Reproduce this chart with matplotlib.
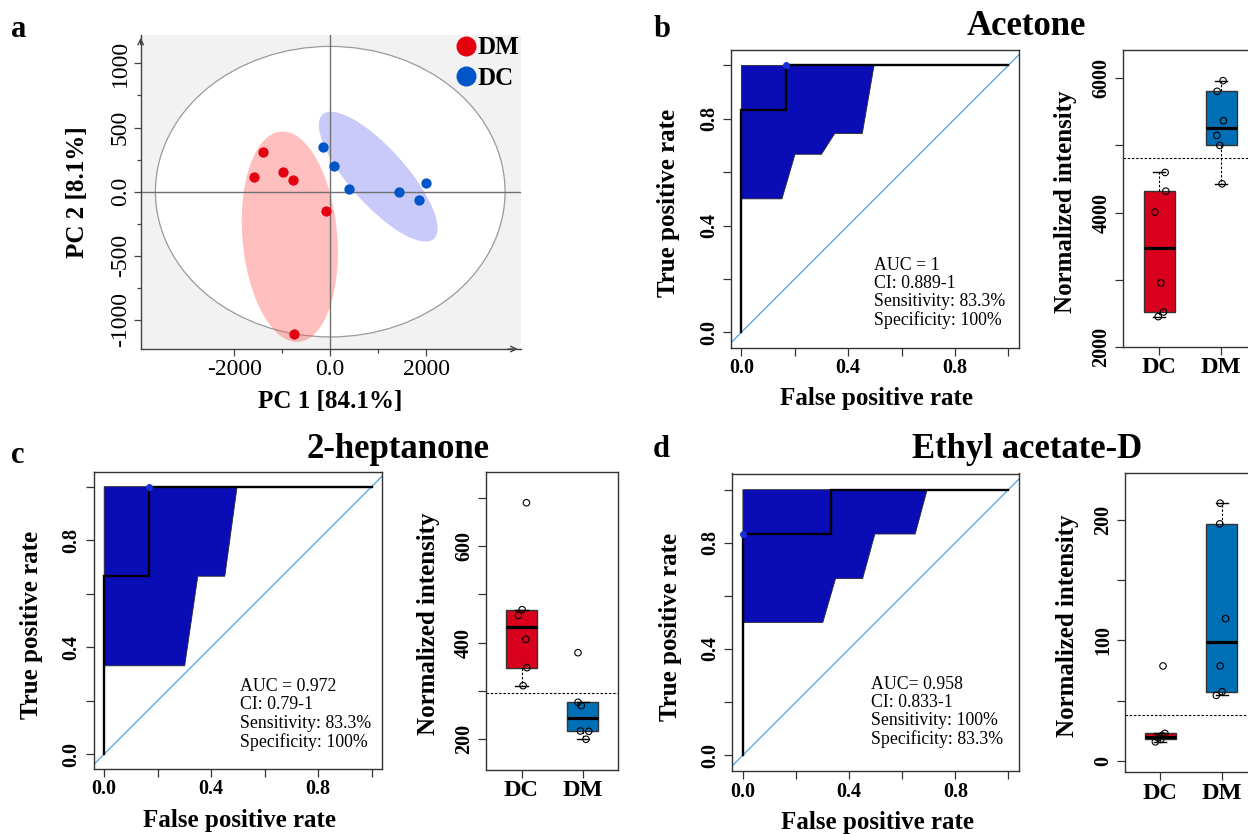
import numpy as np
import matplotlib
matplotlib.use("Agg")
import matplotlib.pyplot as plt
from matplotlib.patches import Ellipse
from matplotlib.lines import Line2D

plt.rcParams['font.family'] = ['Liberation Serif', 'DejaVu Serif']

# ---------------- data ----------------
# Panel a: PCA scores
pca_groups = ['DM', 'DC']
dm_pc1 = [-1393, -1593, -986, -779, -93, -764]
dm_pc2 = [312, 117, 156, 88, -148, -1112]
dc_pc1 = [-143, 86, 386, 1436, 1857, 1986]
dc_pc2 = [351, 197, 23, 0, -68, 68]
pc1_label = 'PC 1 [84.1%]'
pc2_label = 'PC 2 [8.1%]'
# ellipses: centre and two conjugate semi-axes (score units)
t2_center = (0, 0)
t2_semi = (3643, 1132)
dm_ell_center = (-843, -351); dm_ell_u = (-150, 820); dm_ell_v = (990, 0)
dc_ell_center = (1000, 117); dc_ell_u = (-1170, 480); dc_ell_v = (400, 160)

# ROC curves
acetone_fpr = [0.0, 0.0, 0.167, 0.167, 1.0]
acetone_tpr = [0.0, 0.833, 0.833, 1.0, 1.0]
acetone_ci_fpr = [0.0, 0.497, 0.453, 0.350, 0.300, 0.201, 0.152, 0.0]
acetone_ci_tpr = [1.0, 1.0, 0.745, 0.745, 0.667, 0.667, 0.500, 0.500]
acetone_best = (0.167, 1.0)
acetone_stats = ['AUC = 1', 'CI: 0.889-1', 'Sensitivity: 83.3%', 'Specificity: 100%']

heptanone_fpr = [0.0, 0.0, 0.167, 0.167, 1.0]
heptanone_tpr = [0.0, 0.667, 0.667, 1.0, 1.0]
heptanone_ci_fpr = [0.0, 0.497, 0.451, 0.350, 0.301, 0.0]
heptanone_ci_tpr = [1.0, 1.0, 0.665, 0.665, 0.330, 0.330]
heptanone_best = (0.167, 1.0)
heptanone_stats = ['AUC = 0.972', 'CI: 0.79-1', 'Sensitivity: 83.3%', 'Specificity: 100%']

ethyl_fpr = [0.0, 0.0, 0.333, 0.333, 1.0]
ethyl_tpr = [0.0, 0.833, 0.833, 1.0, 1.0]
ethyl_ci_fpr = [0.0, 0.694, 0.649, 0.497, 0.451, 0.349, 0.301, 0.0]
ethyl_ci_tpr = [1.0, 1.0, 0.833, 0.833, 0.665, 0.665, 0.500, 0.500]
ethyl_best = (0.0, 0.833)
ethyl_stats = ['AUC= 0.958', 'CI: 0.833-1', 'Sensitivity: 100%', 'Specificity: 83.3%']

# Box plots (normalized intensity)
box_groups = ['DC', 'DM']
acetone_dc = [4597, 4318, 4005, 2950, 2517, 2448]
acetone_dm = [5965, 5806, 5368, 5149, 5000, 4428]
acetone_dc_jit = [0.096, 0.107, -0.069, 0.027, 0.069, -0.016]
acetone_dm_jit = [0.032, -0.064, 0.037, -0.069, -0.021, 0.016]
acetone_cut = 4806

heptanone_dc = [689.7, 468.3, 456.6, 406.9, 348.3, 311.0]
heptanone_dm = [379.3, 276.6, 269.7, 217.2, 216.6, 200.0]
heptanone_dc_jit = [0.080, 0.010, -0.050, 0.070, 0.088, 0.025]
heptanone_dm_jit = [-0.078, -0.078, -0.026, -0.039, 0.098, 0.052]
heptanone_cut = 295

ethyl_dc = [78.7, 22.7, 21.0, 19.0, 17.7, 15.7]
ethyl_dm = [213.9, 196.7, 118.0, 78.7, 57.3, 54.3]
ethyl_dc_jit = [0.044, 0.075, 0.025, -0.038, 0.006, -0.080]
ethyl_dm_jit = [-0.025, -0.031, 0.063, -0.025, 0.006, -0.088]
ethyl_cut = 38.2

# ---------------- style ----------------
RED_PT = '#e3000f'
BLUE_PT = '#0055c8'
RED_BOX = '#d8001c'
BLUE_BOX = '#0070b6'
CI_BLUE = '#0a0cb5'
DIAG = '#4ba3e3'
FRAME = '#333333'

W, H = 1248, 834
fig = plt.figure(figsize=(W / 100, H / 100), dpi=100)


def add_ax(l, t, r, b):
    return fig.add_axes([l / W, 1 - b / H, (r - l) / W, (b - t) / H])


def ellipse_pts(c, u, v, n=200):
    t = np.linspace(0, 2 * np.pi, n)
    x = c[0] + u[0] * np.cos(t) + v[0] * np.sin(t)
    y = c[1] + u[1] * np.cos(t) + v[1] * np.sin(t)
    return x, y


# ---------------- panel a ----------------
ax = add_ax(140.7, 35, 520.5, 349)
ax.set_facecolor('#f2f2f2')
ax.set_xlim(-3950, 3965)
ax.set_ylim(-1226, 1221)
ax.add_patch(Ellipse(t2_center, 2 * t2_semi[0], 2 * t2_semi[1], fc='white',
                     ec='#9a9a9a', lw=0.9, zorder=0.5))
ex, ey = ellipse_pts(dm_ell_center, dm_ell_u, dm_ell_v)
ax.fill(ex, ey, color='#ff5050', alpha=0.36, lw=0, zorder=1.2)
ex, ey = ellipse_pts(dc_ell_center, dc_ell_u, dc_ell_v)
ax.fill(ex, ey, color='#5a5af0', alpha=0.32, lw=0, zorder=1.2)
ax.axhline(0, color='#707070', lw=1.0, zorder=1.5)
ax.axvline(0, color='#707070', lw=1.0, zorder=1.5)
ax.scatter(dm_pc1, dm_pc2, s=55, color=RED_PT, zorder=3, lw=0)
ax.scatter(dc_pc1, dc_pc2, s=55, color=BLUE_PT, zorder=3, lw=0)
for s in ['top', 'right']:
    ax.spines[s].set_visible(False)
for s in ['left', 'bottom']:
    ax.spines[s].set_color('#444444')
    ax.spines[s].set_linewidth(1.0)
ax.set_xticks([-2000, 0, 2000], ['-2000', '0.0', '2000'], fontsize=17)
ax.set_xticks([-1000, 1000], minor=True)
ax.set_yticks([-1000, -500, 0, 500, 1000], ['-1000', '-500', '0.0', '500', '1000'],
              fontsize=17, rotation=90, va='center')
ax.set_yticks([-750, -250, 250, 750], minor=True)
ax.tick_params(which='both', color='#444444', width=0.9)
ax.tick_params(which='major', length=5, pad=2)
ax.tick_params(which='minor', length=3)
ax.annotate('', xy=(1.0, 0), xytext=(0.96, 0), xycoords='axes fraction',
            arrowprops=dict(arrowstyle='->', color='#444444', lw=1.0, mutation_scale=10))
ax.annotate('', xy=(0, 1.0), xytext=(0, 0.96), xycoords='axes fraction',
            arrowprops=dict(arrowstyle='->', color='#444444', lw=1.0, mutation_scale=10))
ax.set_xlabel(pc1_label, fontsize=18, fontweight='bold')
ax.set_ylabel(pc2_label, fontsize=18, fontweight='bold')
ax.xaxis.label.set(va='center', ha='center')
ax.yaxis.label.set(va='center', ha='center')
ax.xaxis.set_label_coords(0.498, -0.168)
ax.yaxis.set_label_coords(-0.166, 0.5)
handles = [Line2D([], [], ls='none', marker='o', ms=13.4, mfc=RED_PT, mec=RED_PT),
           Line2D([], [], ls='none', marker='o', ms=13.4, mfc=BLUE_PT, mec=BLUE_PT)]
ax.legend(handles, pca_groups, loc='upper right', bbox_to_anchor=(1.0, 1.0),
          frameon=False, prop=dict(weight='bold', size=18), handlelength=0.8,
          handletextpad=0.05, labelspacing=0.3, borderpad=0.05, borderaxespad=0.0)


# ---------------- ROC helper ----------------
def draw_roc(l, t, r, b, fpr, tpr, ci_fpr, ci_tpr, best, stats, tx, ty):
    ax = add_ax(l, t, r, b)
    wpx, hpx = r - l, b - t
    k = wpx / 1.08
    half = hpx / (2 * k)
    ax.set_xlim(-0.04, 1.04)
    ax.set_ylim(0.5 - half, 0.5 + half)
    ax.fill(ci_fpr, ci_tpr, fc=CI_BLUE, ec='#2a2a2a', lw=0.6, zorder=2)
    ax.axline((0, 0), (1, 1), color=DIAG, lw=0.9, zorder=2.5)
    ax.plot(fpr, tpr, color='black', lw=1.7, zorder=3, solid_joinstyle='miter')
    ax.plot([best[0]], [best[1]], 'o', color='#1a30d8', ms=4, zorder=4)
    ax.text(tx, ty, '\n'.join(stats), fontsize=12.8, va='center', ha='left',
            linespacing=1.08, zorder=5)
    ticks = [0, 0.2, 0.4, 0.6, 0.8, 1.0]
    labs = ['0.0', '', '0.4', '', '0.8', '']
    ax.set_xticks(ticks, labs, fontsize=14.5, fontweight='bold')
    ax.set_yticks(ticks, labs, fontsize=14.5, fontweight='bold', rotation=90, va='center')
    ax.tick_params(length=5.5, width=0.9, color=FRAME)
    ax.tick_params(axis='x', pad=2)
    ax.tick_params(axis='y', pad=3)
    for s in ax.spines.values():
        s.set_color(FRAME)
        s.set_linewidth(1.0)
    ax.set_xlabel('False positive rate', fontsize=18, fontweight='bold')
    ax.set_ylabel('True positive rate', fontsize=18, fontweight='bold')
    ax.xaxis.label.set(va='center', ha='center')
    ax.yaxis.label.set(va='center', ha='center')
    ax.xaxis.set_label_coords(0.507, -0.172)
    ax.yaxis.set_label_coords(-0.215, 0.485)
    return ax


def tukey(vals):
    s = np.sort(np.asarray(vals, dtype=float))
    n = len(s)
    q1 = np.median(s[:(n + 1) // 2])
    q3 = np.median(s[n // 2:])
    iqr = q3 - q1
    lo = s[s >= q1 - 1.5 * iqr].min()
    hi = s[s <= q3 + 1.5 * iqr].max()
    return dict(med=np.median(s), q1=q1, q3=q3, whislo=lo, whishi=hi, fliers=[])


def draw_box(l, t, r, b, dc, dm, dc_jit, dm_jit, cut, ylim, yticks, ylabs):
    ax = add_ax(l, t, r, b)
    stats = [tukey(dc), tukey(dm)]
    bp = ax.bxp(stats, positions=[1, 2], widths=0.5, patch_artist=True, showfliers=False,
                boxprops=dict(edgecolor=FRAME, lw=1.0),
                medianprops=dict(color='black', lw=2.3),
                whiskerprops=dict(color='black', lw=0.8, ls=(0, (2.2, 1.6))),
                capprops=dict(color='black', lw=1.0), capwidths=0.2)
    bp['boxes'][0].set_facecolor(RED_BOX)
    bp['boxes'][1].set_facecolor(BLUE_BOX)
    ax.axhline(cut, color='black', lw=0.8, ls=(0, (2.2, 1.6)), zorder=1)
    ax.scatter(1 + np.asarray(dc_jit), dc, s=22, facecolors='none', edgecolors='black',
               lw=0.8, zorder=4)
    ax.scatter(2 + np.asarray(dm_jit), dm, s=22, facecolors='none', edgecolors='black',
               lw=0.8, zorder=4)
    ax.set_xlim(0.42, 2.58)
    ax.set_ylim(*ylim)
    ax.set_xticks([1, 2], box_groups, fontsize=17.5, fontweight='bold')
    ax.set_yticks(yticks, ylabs, fontsize=14.5, fontweight='bold', rotation=90, va='center')
    ax.tick_params(length=5.5, width=0.9, color=FRAME)
    ax.tick_params(axis='x', pad=2)
    ax.tick_params(axis='y', pad=3)
    for s in ax.spines.values():
        s.set_color(FRAME)
        s.set_linewidth(1.0)
    ax.set_ylabel('Normalized intensity', fontsize=18, fontweight='bold')
    ax.yaxis.label.set(va='center', ha='center')
    ax.yaxis.set_label_coords(-0.435, 0.49)
    return ax


# ---------------- panel b ----------------
draw_roc(730.7, 50, 1019, 347.7, acetone_fpr, acetone_tpr, acetone_ci_fpr, acetone_ci_tpr,
         acetone_best, acetone_stats, 0.496, 0.149)
draw_box(1123.3, 50, 1257, 346.7, acetone_dc, acetone_dm, acetone_dc_jit, acetone_dm_jit,
         acetone_cut, (2000, 6422), [2000, 3000, 4000, 5000, 6000],
         ['2000', '', '4000', '', '6000'])

# ---------------- panel c ----------------
draw_roc(93.5, 471.7, 382.3, 769, heptanone_fpr, heptanone_tpr, heptanone_ci_fpr,
         heptanone_ci_tpr, heptanone_best, heptanone_stats, 0.506, 0.148)
draw_box(486, 471.7, 618.3, 769.7, heptanone_dc, heptanone_dm, heptanone_dc_jit,
         heptanone_dm_jit, heptanone_cut, (137, 754), [200, 300, 400, 500, 600, 700],
         ['200', '', '400', '', '600', ''])

# ---------------- panel d ----------------
draw_roc(732.3, 473.5, 1019, 771.3, ethyl_fpr, ethyl_tpr, ethyl_ci_fpr, ethyl_ci_tpr,
         ethyl_best, ethyl_stats, 0.483, 0.161)
draw_box(1124.7, 473.3, 1257.3, 772.3, ethyl_dc, ethyl_dm, ethyl_dc_jit, ethyl_dm_jit,
         ethyl_cut, (-9.6, 238.7), [0, 50, 100, 150, 200], ['0', '', '100', '', '200'])

# ---------------- titles & panel letters ----------------
def ftext(x, y, s, **kw):
    fig.text(x / W, 1 - y / H, s, **kw)


ftext(11, 37, 'a', fontsize=22, fontweight='bold', ha='left', va='baseline')
ftext(653.6, 36.7, 'b', fontsize=22, fontweight='bold', ha='left', va='baseline')
ftext(11, 463.3, 'c', fontsize=22, fontweight='bold', ha='left', va='baseline')
ftext(652.7, 456.7, 'd', fontsize=22, fontweight='bold', ha='left', va='baseline')
ftext(1026, 35, 'Acetone', fontsize=25, fontweight='bold', ha='center', va='baseline')
ftext(398, 458.3, '2-heptanone', fontsize=25, fontweight='bold', ha='center', va='baseline')
ftext(1027, 458.3, 'Ethyl acetate-D', fontsize=25, fontweight='bold', ha='center', va='baseline')

fig.savefig('out.png', dpi=100)
